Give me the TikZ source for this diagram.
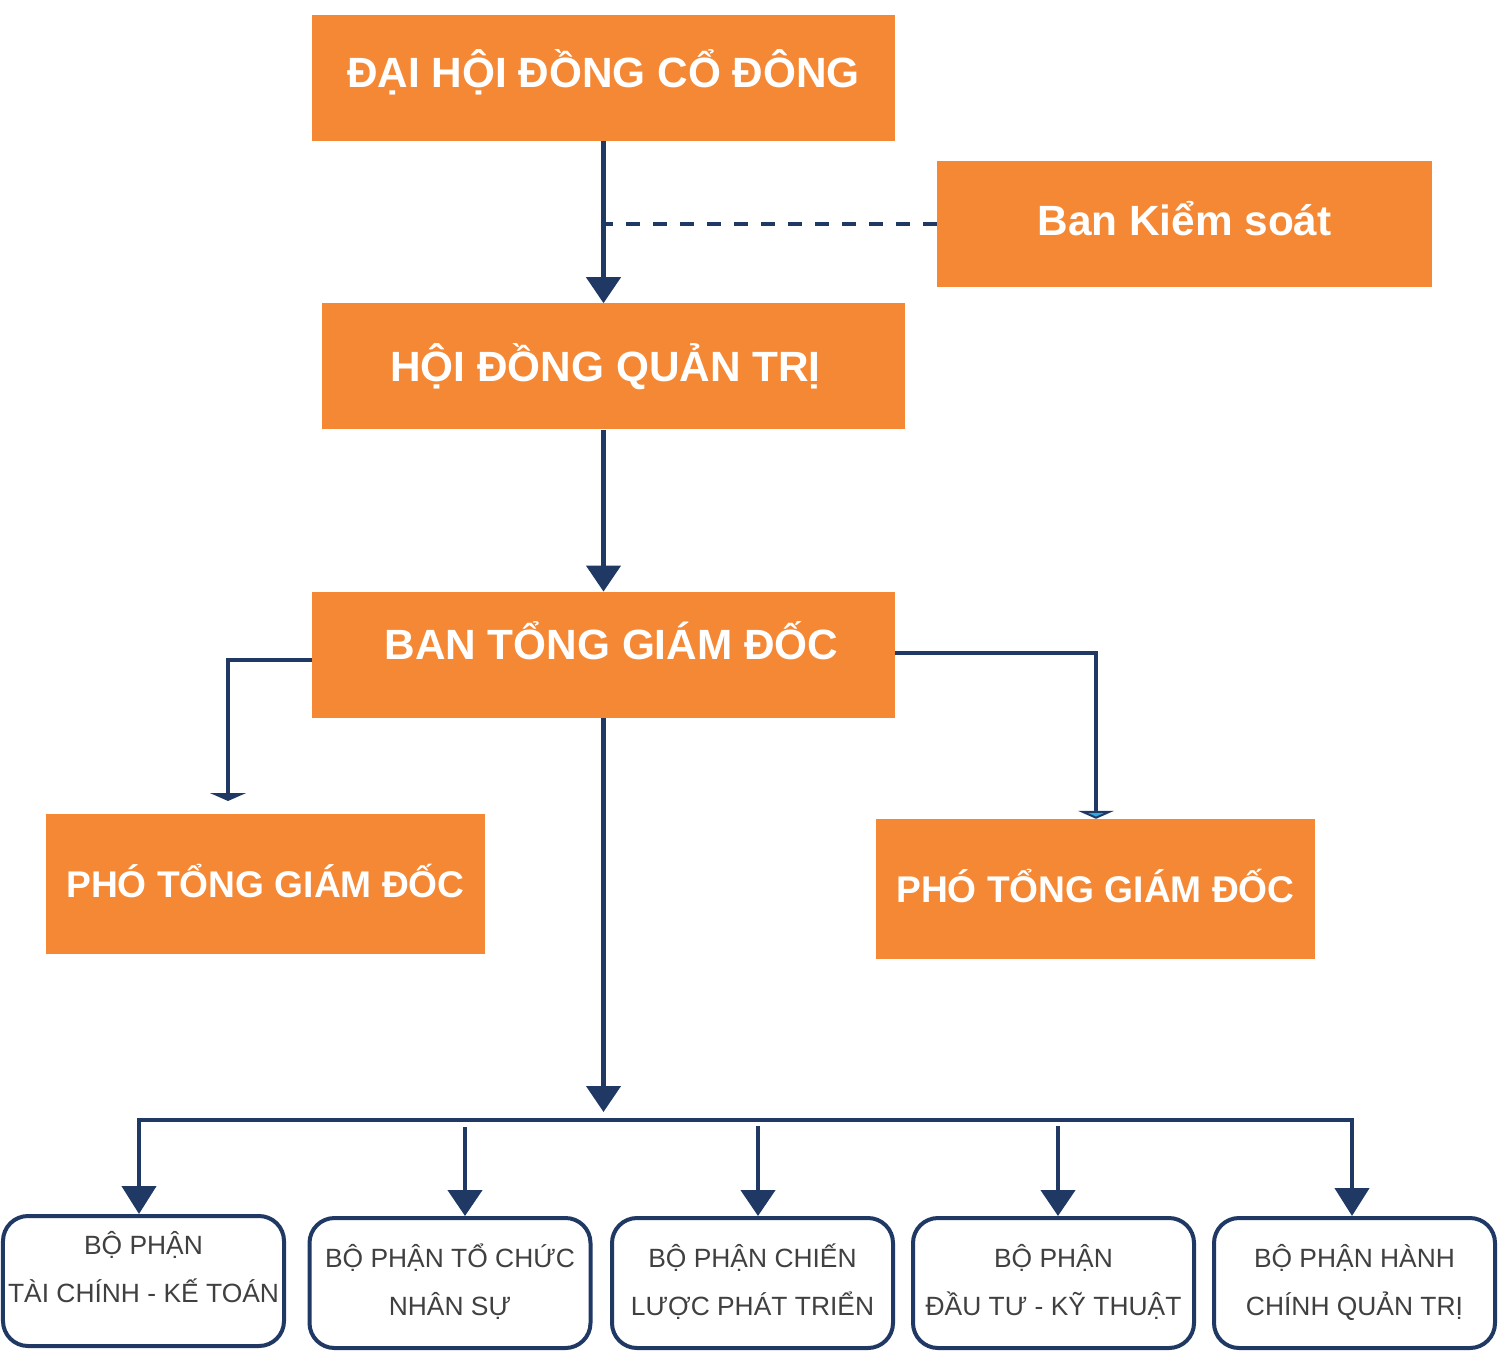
\documentclass[tikz,border=0pt]{standalone}
\usepackage{fontspec}
\setmainfont{Liberation Sans}
\usepackage{tikz}
\usetikzlibrary{positioning,arrows.meta,calc}
\definecolor{boxorange}{RGB}{245,136,52}
\definecolor{linknavy}{RGB}{31,56,100}
\definecolor{textgray}{RGB}{64,64,64}
\definecolor{tipblue}{RGB}{41,171,226}

\begin{document}
\begin{tikzpicture}[
      x=1bp, y=-1bp,
      head/.style={fill=boxorange, draw=none, text=white, align=center,
                   font=\fontsize{42.5}{48}\bfseries, inner sep=0pt,
                   text height=30bp, text depth=0pt,
                   minimum width=583bp, minimum height=126bp},
      vice/.style={head, font=\fontsize{37.3}{44}\bfseries, text depth=4bp,
                   minimum width=439bp, minimum height=140bp},
      dept/.style={rounded corners=25bp, draw=linknavy, line width=4bp,
                   fill=white, text=textgray, align=center, inner sep=0pt,
                   font=\fontsize{26.5}{48}\selectfont, text depth=6bp,
                   minimum width=281bp, minimum height=130bp},
      arr/.style={-{Triangle[width=34bp,length=26bp]}, line width=4.5bp,
                  draw=linknavy},
      flat/.style={-{Triangle[width=36bp,length=8bp,fill=linknavy]},
                   line width=4.5bp, draw=linknavy},
      flatblue/.style={-{Triangle[width=36bp,length=8bp,fill=tipblue]},
                       line width=4.5bp, draw=linknavy},
      dashlink/.style={line width=4.5bp, draw=linknavy,
                       dash pattern=on 14bp off 13bp}
    ]
    \useasboundingbox (0,0) rectangle (1509,1361);
    % top of the chart
    \node[head, text depth=10bp] (dhcd) at (603.5,78) {ĐẠI HỘI ĐỒNG CỔ ĐÔNG};
    \node[head, below=162bp of dhcd, xshift=10bp] (hdqt)
         {HỘI ĐỒNG QUẢN TRỊ\hspace*{16bp}};
    \node[head, below=162bp of hdqt, xshift=-10bp, text depth=20bp]
         (btgd) {\hspace*{16bp}BAN TỔNG GIÁM ĐỐC};
    \node[head, minimum width=495bp, text depth=6bp] (bks) at (1184.5,224)
         {Ban Kiểm soát};
    \node[vice] (ptgd1) at (265.5,884) {PHÓ TỔNG GIÁM ĐỐC};
    \node[vice] (ptgd2) at (1095.5,889) {PHÓ TỔNG GIÁM ĐỐC};
    % departments
    \node[dept, text depth=28bp] (b1) at (143.5,1281)
         {BỘ PHẬN\\TÀI CHÍNH - KẾ TOÁN};
    \node[dept] (b2) at (450,1283) {BỘ PHẬN TỔ CHỨC\\NHÂN SỰ};
    \node[dept] (b3) at (752.5,1283) {BỘ PHẬN CHIẾN\\LƯỢC PHÁT TRIỂN};
    \node[dept] (b4) at (1053.5,1283) {BỘ PHẬN\\ĐẦU TƯ - KỸ THUẬT};
    \node[dept] (b5) at (1354.5,1283) {BỘ PHẬN HÀNH\\CHÍNH QUẢN TRỊ};
    \coordinate (pL) at (228,801);
    \coordinate (busL) at (139,1120);
    \coordinate (busR) at (1352,1120);
    \coordinate (hub) at (603.5,1112);
    \coordinate (m2) at (465,1127);
    \coordinate (m3) at (758,1126);
    \coordinate (m4) at (1058,1126);
    % main line
    \draw[arr] (dhcd.south) -- (dhcd.south |- hdqt.north);
    \draw[dashlink] (bks.west) -- (bks.west -| dhcd.south);
    \draw[arr] (hdqt.south -| btgd.north) -- (btgd.north);
    \draw[arr] (btgd.south) -- (hub);
    % deputies
    \draw[flat] ([yshift=-5bp]btgd.west) -| (pL);
    \draw[flatblue] ([yshift=2bp]btgd.east) -| ([xshift=0.5bp]ptgd2.north);
    % bus to the departments
    \draw[{Triangle[width=34bp,length=28bp]}-{Triangle[width=34bp,length=28bp]},
          line width=4.5bp, draw=linknavy]
      (busL |- b1.north) -- (busL) -- (busR) -- (busR |- b5.north);
    \draw[arr] (m2) -- (m2 |- b2.north);
    \draw[arr] (m3) -- (m3 |- b3.north);
    \draw[arr] (m4) -- (m4 |- b4.north);
  \end{tikzpicture}
\end{document}
